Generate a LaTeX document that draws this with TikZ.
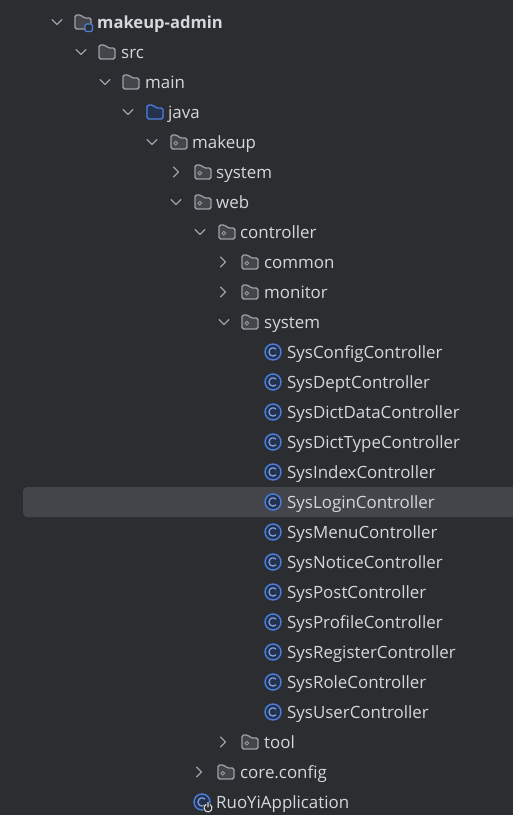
\documentclass[tikz,border=0pt]{standalone}
\usepackage{fontspec}
\setmainfont{Open Sans}
\definecolor{panelbg}{HTML}{2B2D30}
\definecolor{rowsel}{HTML}{43454A}
\definecolor{labeltxt}{HTML}{D5D7DC}
\definecolor{iconline}{HTML}{9DA0A8}
\definecolor{iconfill}{HTML}{43454A}
\definecolor{iconblue}{HTML}{4A7FE0}
\definecolor{bluefill}{HTML}{25324D}
\tikzset{
  rowlabel/.style={anchor=west,inner sep=0pt,text height=13pt,text depth=1pt,text=labeltxt,font=\fontsize{16.9}{20}\selectfont},
  chevron/.style={draw=iconline,line width=1.3pt,line cap=round,line join=round},
  folderpath/.style={line width=1.3pt,rounded corners=1.6pt,line join=round},
  open/.pic={\draw[chevron] (-5,-2.5) -- (0,2.5) -- (5,-2.5);},
  shut/.pic={\draw[chevron] (-2.5,-5) -- (2.5,0) -- (-2.5,5);},
  folder/.pic={\draw[folderpath,draw=iconline,fill=iconfill] (-8,-7) -- (-2,-7) -- (1,-4) -- (8,-4) -- (8,7) -- (-8,7) -- cycle;},
  bluefolder/.pic={\draw[folderpath,draw=iconblue,fill=bluefill] (-8,-7) -- (-2,-7) -- (1,-4) -- (8,-4) -- (8,7) -- (-8,7) -- cycle;},
  package/.pic={\draw[folderpath,draw=iconline,fill=iconfill] (-8,-7) -- (-2,-7) -- (1,-4) -- (8,-4) -- (8,7) -- (-8,7) -- cycle;
    \draw[iconline,line width=.8pt] (-3.2,1.2) circle (1.9);},
  classicon/.pic={\draw[iconblue,line width=1.4pt,fill=bluefill] (0,0) circle (8);
    \draw[iconblue!70!white,line width=1.2pt] (3,2.8) arc (43:317:4.1);},
}
\begin{document}
\begin{tikzpicture}[x=1pt,y=-1pt]
\useasboundingbox (0,0) rectangle (513,815);
\fill[panelbg] (0,0) rectangle (513,815);
\fill[rowsel,rounded corners=4pt] (23,487) rectangle (540,517);
% module and source folders
\pic at (57,22) {open};
\pic at (83,22) {folder};
\draw[iconblue,line width=1.3pt,fill=panelbg,rounded corners=1.5pt] (85,24) rectangle (92.5,31.5);
\node[rowlabel,font=\fontsize{16.6}{20}\bfseries] (admin) at (97,22) {makeup-admin};
\pic at (81,52) {open};
\pic at (107,52) {folder};
\node[rowlabel] (src) at (121,52) {src};
\pic at (105,82) {open};
\pic at (131,82) {folder};
\node[rowlabel] (main) at (145,82) {main};
\pic at (128,112) {open};
\pic at (155,112) {bluefolder};
\node[rowlabel] (java) at (168,112) {java};
% packages
\pic at (152,142) {open};
\pic at (179,142) {package};
\node[rowlabel] (makeup) at (192,142) {makeup};
\pic at (176,172) {shut};
\pic at (203,172) {package};
\node[rowlabel] (sysone) at (216,172) {system};
\pic at (176,202) {open};
\pic at (203,202) {package};
\node[rowlabel] (web) at (216,202) {web};
\pic at (200,232) {open};
\pic at (227,232) {package};
\node[rowlabel] (controller) at (240,232) {controller};
\pic at (223,262) {shut};
\pic at (250,262) {package};
\node[rowlabel] (common) at (264,262) {common};
\pic at (223,292) {shut};
\pic at (250,292) {package};
\node[rowlabel] (monitor) at (264,292) {monitor};
\pic at (224,322) {open};
\pic at (250,322) {package};
\node[rowlabel] (systwo) at (264,322) {system};
% classes
\foreach \cname [count=\i from 0] in {SysConfig,SysDept,SysDictData,SysDictType,SysIndex,SysLogin,SysMenu,SysNotice,SysPost,SysProfile,SysRegister,SysRole,SysUser}{
  \pic at (273,352+30*\i) {classicon};
  \node[rowlabel] (\cname) at (287,352+30*\i) {\cname Controller};
}
\pic at (223,742) {shut};
\pic at (250,742) {package};
\node[rowlabel] (tool) at (264,742) {tool};
\pic at (199,772) {shut};
\pic at (226,772) {package};
\node[rowlabel] (coreconfig) at (240,772) {core.config};
\pic at (202,802) {classicon};
\fill[panelbg] (208,808) circle (5.5);
\draw[labeltxt,line width=1.1pt,line cap=round] (210,804.5) arc (300:600:4) (208,802.5) -- (208,807);
\node[rowlabel] (app) at (216,802) {RuoYiApplication};
\end{tikzpicture}
\end{document}
